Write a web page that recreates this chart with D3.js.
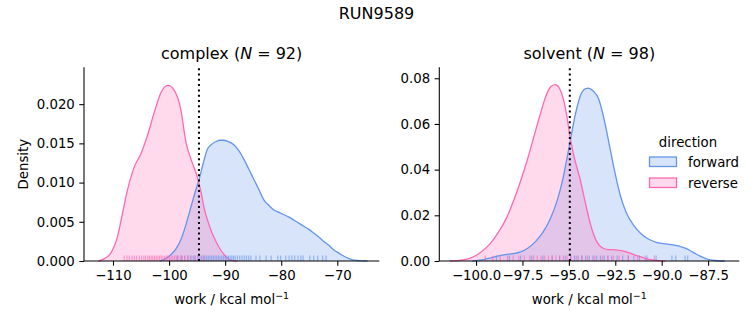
<!DOCTYPE html>
<html>
<head>
<meta charset="utf-8">
<script src="https://cdn.jsdelivr.net/npm/d3@7/dist/d3.min.js"></script>
<style>
  body { margin: 0; background: #fff; }
  svg { display: block; font-family: "DejaVu Sans", sans-serif; }
</style>
</head>
<body>
<svg id="chart" width="753" height="325"></svg>
<script>
// ---------------- data ----------------
const suptitle = "RUN9589";
const panelNames = ["complex", "solvent"];
const panelN = [92, 98];
const directions = ["forward", "reverse"];
const dividerLines = [-94.67, -94.95];

// complex, forward KDE (work, density)
const complexFwdX = [-101.6, -100.6, -99.7, -98.8, -97.9, -97.0, -96.1, -95.3, -94.6, -93.9, -93.2, -92.4, -91.7, -90.9, -90.2, -89.3, -88.4, -87.5, -86.6, -85.7, -84.8, -83.9, -83.1, -82.2, -81.3, -80.4, -79.5, -78.6, -77.7, -76.8, -75.9, -75.0, -74.1, -73.2, -72.4, -71.5, -70.6, -69.7, -68.8, -67.9, -67.0, -65.8, -64.6];
const complexFwdY = [0, 0.0003, 0.0008, 0.0015, 0.0027, 0.0046, 0.0069, 0.0089, 0.0105, 0.0125, 0.0142, 0.0149, 0.0152, 0.0154, 0.0154, 0.0152, 0.0148, 0.0140, 0.0129, 0.0116, 0.0103, 0.0090, 0.0078, 0.0071, 0.0065, 0.0062, 0.0059, 0.0056, 0.0052, 0.0048, 0.0044, 0.0040, 0.0035, 0.0030, 0.0025, 0.0020, 0.0014, 0.0010, 0.0006, 0.0003, 0.0001, 0.00002, 0];
// complex, reverse KDE
const complexRevX = [-112.6, -111.5, -110.4, -109.2, -108.3, -107.4, -106.2, -105.0, -103.9, -102.7, -101.5, -100.2, -99.1, -97.9, -97.0, -96.0, -95.0, -94.3, -93.7, -93.0, -92.3, -91.5, -90.8, -89.9, -89.0, -87.8];
const complexRevY = [0, 0.0003, 0.0010, 0.0031, 0.0061, 0.0091, 0.0120, 0.0137, 0.0159, 0.0188, 0.0214, 0.0224, 0.0218, 0.0193, 0.0152, 0.0128, 0.0108, 0.0088, 0.0066, 0.0049, 0.0035, 0.0023, 0.0014, 0.0006, 0.0001, 0];
// solvent, forward KDE
const solventFwdX = [-100.2, -99.7, -99.25, -98.8, -98.4, -98.0, -97.6, -97.2, -96.8, -96.4, -96.0, -95.65, -95.35, -95.1, -94.85, -94.6, -94.35, -94.1, -93.95, -93.7, -93.4, -93.1, -92.8, -92.5, -92.24, -91.9, -91.5, -91.1, -90.7, -90.3, -89.9, -89.5, -89.1, -88.7, -88.3, -87.9, -87.5, -87.0, -86.6];
const solventFwdY = [0, 0.0005, 0.0013, 0.0022, 0.0028, 0.0032, 0.0040, 0.0057, 0.0085, 0.0125, 0.0185, 0.0260, 0.0350, 0.0450, 0.0560, 0.0660, 0.0730, 0.0755, 0.0757, 0.0745, 0.0710, 0.0620, 0.0500, 0.0380, 0.0290, 0.0210, 0.0155, 0.0118, 0.0095, 0.0082, 0.0076, 0.0072, 0.0066, 0.0055, 0.0038, 0.0020, 0.0007, 0.0001, 0];
// solvent, reverse KDE
const solventRevX = [-101.4, -100.8, -100.3, -99.8, -99.25, -98.8, -98.35, -97.95, -97.6, -97.25, -96.9, -96.55, -96.2, -95.95, -95.74, -95.5, -95.3, -95.1, -94.95, -94.7, -94.4, -94.1, -93.8, -93.5, -93.2, -92.9, -92.5, -92.1, -91.7, -91.3, -90.9, -90.4, -89.8];
const solventRevY = [0, 0.0004, 0.0013, 0.0035, 0.0075, 0.0125, 0.0190, 0.0270, 0.0350, 0.0440, 0.0540, 0.0640, 0.0730, 0.0765, 0.0772, 0.0755, 0.0710, 0.0630, 0.0550, 0.0450, 0.0360, 0.0250, 0.0150, 0.0085, 0.0058, 0.0050, 0.0049, 0.0044, 0.0034, 0.0022, 0.0012, 0.0004, 0];

// rug samples (work values)
const complexFwdRug = [-98.5, -97.8, -97.2, -96.6, -96.1, -95.7, -95.3, -94.9, -94.5, -94.2, -93.9, -93.6, -93.3, -93.0, -92.7, -92.4, -92.1, -91.8, -91.5, -91.2, -90.9, -90.6, -90.3, -90.0, -89.7, -89.4, -89.1, -88.8, -88.5, -88.2, -87.8, -87.4, -87.0, -86.6, -86.2, -85.8, -85.4, -84.5, -83.8, -82.7, -81.8, -80.6, -80.1, -79.2, -78.6, -78.1, -77.6, -77.0, -76.5, -76.1, -74.9, -74.2, -73.5, -72.6, -72.0];
const complexRevRug = [-108.0, -107.5, -107.1, -106.6, -106.2, -105.8, -105.3, -104.9, -104.5, -104.2, -103.8, -103.5, -103.2, -102.9, -102.6, -102.3, -102.0, -101.7, -101.4, -101.1, -100.8, -100.5, -100.2, -99.9, -99.6, -99.3, -99.0, -98.7, -98.4, -98.0, -97.6, -97.2, -96.7, -96.2, -95.5, -94.8, -93.8];
const solventFwdRug = [-98.9, -98.2, -97.6, -97.0, -96.4, -95.9, -95.5, -95.2, -94.9, -94.7, -94.5, -94.3, -94.1, -93.9, -93.7, -93.5, -93.3, -93.1, -92.9, -92.7, -92.4, -92.1, -91.8, -91.5, -91.2, -90.8, -90.3, -89.45, -89.24, -88.74, -88.6];
const solventRevRug = [-99.5, -99.1, -98.7, -98.3, -98.0, -97.7, -97.4, -97.1, -96.9, -96.7, -96.5, -96.3, -96.1, -95.9, -95.7, -95.5, -95.3, -95.1, -94.9, -94.6, -94.3, -94.0, -93.6, -93.2, -92.9, -92.6, -92.3, -91.8, -91.3, -90.9, -90.4];

// axis ticks
const complexXTicks = [-110, -100, -90, -80, -70];
const complexYTicks = [0, 0.005, 0.010, 0.015, 0.020];
const solventXTicks = [-100.0, -97.5, -95.0, -92.5, -90.0, -87.5];
const solventYTicks = [0, 0.02, 0.04, 0.06, 0.08];
const complexXDomain = [-115.17, -62.51];
const complexYDomain = [0, 0.0247];
const solventXDomain = [-101.98, -85.82];
const solventYDomain = [0, 0.0848];

// ---------------- drawing ----------------
const colors = { forward: "#6495ED", reverse: "#FF69B4" };
const svg = d3.select("#chart");
const zip = (xs, ys) => xs.map((x, i) => ({ x, y: ys[i] }));

svg.append("text").attr("x", 376.5).attr("y", 19).attr("text-anchor", "middle")
  .attr("font-size", 16).attr("fill", "#000").text(suptitle);

const panels = [
  { name: panelNames[0], N: panelN[0], xr: [84, 379.3], xd: complexXDomain, yd: complexYDomain,
    xt: complexXTicks, yt: complexYTicks, xf: d3.format(".0f"), yf: d3.format(".3f"),
    curves: { forward: zip(complexFwdX, complexFwdY), reverse: zip(complexRevX, complexRevY) },
    rugs: { forward: complexFwdRug, reverse: complexRevRug }, vline: dividerLines[0], ylabel: true },
  { name: panelNames[1], N: panelN[1], xr: [439.3, 739.3], xd: solventXDomain, yd: solventYDomain,
    xt: solventXTicks, yt: solventYTicks, xf: d3.format(".1f"), yf: d3.format(".2f"),
    curves: { forward: zip(solventFwdX, solventFwdY), reverse: zip(solventRevX, solventRevY) },
    rugs: { forward: solventFwdRug, reverse: solventRevRug }, vline: dividerLines[1], ylabel: false }
];

const yRange = [261, 67.3];

panels.forEach(p => {
  const x = d3.scaleLinear().domain(p.xd).range(p.xr);
  const y = d3.scaleLinear().domain(p.yd).range(yRange);
  const g = svg.append("g");

  const area = d3.area().x(d => x(d.x)).y0(y(0)).y1(d => y(d.y)).curve(d3.curveMonotoneX);
  const line = d3.line().x(d => x(d.x)).y(d => y(d.y)).curve(d3.curveMonotoneX);

  directions.forEach(dir => {
    g.append("path").datum(p.curves[dir]).attr("d", area)
      .attr("fill", colors[dir]).attr("fill-opacity", 0.25).attr("stroke", "none");
  });
  directions.forEach(dir => {
    g.append("path").datum(p.curves[dir]).attr("d", line)
      .attr("fill", "none").attr("stroke", colors[dir]).attr("stroke-width", 1.3);
  });
  // rugs
  directions.forEach(dir => {
    g.selectAll(null).data(p.rugs[dir]).enter().append("line")
      .attr("x1", d => x(d)).attr("x2", d => x(d))
      .attr("y1", y(0)).attr("y2", y(0) - 5.5)
      .attr("stroke", colors[dir]).attr("stroke-opacity", 0.6).attr("stroke-width", 1.2);
  });
  // divider
  g.append("line").attr("x1", x(p.vline)).attr("x2", x(p.vline))
    .attr("y1", yRange[0]).attr("y2", yRange[1])
    .attr("stroke", "#000").attr("stroke-width", 2).attr("stroke-dasharray", "2,3.3");

  // axes
  const xAxis = d3.axisBottom(x).tickValues(p.xt).tickFormat(p.xf).tickSize(4.7).tickPadding(4.5);
  const gx = g.append("g").attr("transform", `translate(0,${yRange[0]})`).call(xAxis);
  gx.select(".domain").attr("d", `M${p.xr[0]},0H${p.xr[1]}`).attr("stroke-width", 1.07);
  gx.selectAll(".tick line").attr("stroke-width", 1.07);
  gx.selectAll("text").attr("font-size", 13.3).attr("fill", "#000").attr("font-family", "DejaVu Sans");

  const yAxis = d3.axisLeft(y).tickValues(p.yt).tickFormat(p.yf).tickSize(4.7).tickPadding(4.5);
  const gy = g.append("g").attr("transform", `translate(${p.xr[0]},0)`).call(yAxis);
  gy.select(".domain").attr("d", `M0,${yRange[0]}V${yRange[1]}`).attr("stroke-width", 1.07);
  gy.selectAll(".tick line").attr("stroke-width", 1.07);
  gy.selectAll("text").attr("font-size", 13.3).attr("fill", "#000").attr("font-family", "DejaVu Sans");

  const cx = (p.xr[0] + p.xr[1]) / 2;
  // title
  const t = g.append("text").attr("x", cx).attr("y", 59).attr("text-anchor", "middle")
    .attr("font-size", 16).attr("fill", "#000");
  t.append("tspan").text(p.name + " (");
  t.append("tspan").attr("font-style", "italic").text("N");
  t.append("tspan").text(" = " + p.N + ")");

  // x label
  const xl = g.append("text").attr("x", cx).attr("y", 304).attr("text-anchor", "middle")
    .attr("font-size", 13.3).attr("fill", "#000");
  xl.append("tspan").text("work / kcal mol");
  xl.append("tspan").attr("dy", -5).attr("font-size", 9.5).text("\u22121");

  if (p.ylabel) {
    g.append("text").attr("transform", `translate(28,${(yRange[0] + yRange[1]) / 2}) rotate(-90)`)
      .attr("text-anchor", "middle").attr("font-size", 13.3).attr("fill", "#000").text("Density");
  }
});

// legend
const lg = svg.append("g");
lg.append("text").attr("x", 688).attr("y", 147).attr("text-anchor", "middle")
  .attr("font-size", 13.3).attr("fill", "#000").text("direction");
directions.forEach((dir, i) => {
  const yy = 157 + i * 21;
  lg.append("rect").attr("x", 649.5).attr("y", yy).attr("width", 27).attr("height", 9.5)
    .attr("fill", colors[dir]).attr("fill-opacity", 0.25)
    .attr("stroke", colors[dir]).attr("stroke-width", 1.3);
  lg.append("text").attr("x", 688).attr("y", yy + 9.5).attr("font-size", 13.3)
    .attr("fill", "#000").text(dir);
});
</script>
</body>
</html>
